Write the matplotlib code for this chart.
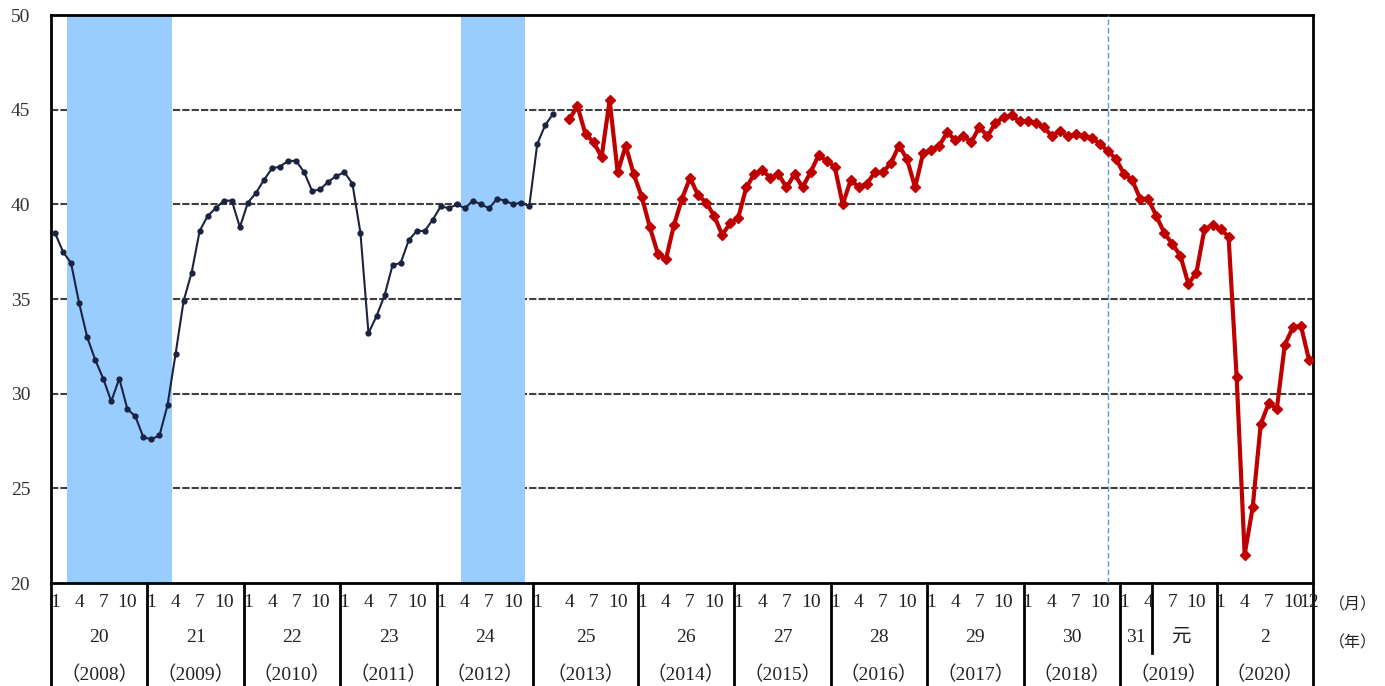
import matplotlib.pyplot as plt

plt.rcParams['font.family'] = ['Liberation Serif', 'Noto Sans CJK JP']

# old basis, Jan 2008 - Mar 2013
old_values = [
    38.5, 37.5, 36.9, 34.8, 33.0, 31.8, 30.8, 29.6, 30.8, 29.2, 28.8, 27.7,
    27.6, 27.8, 29.4, 32.1, 34.9, 36.4, 38.6, 39.4, 39.8, 40.2, 40.2, 38.8,
    40.1, 40.6, 41.3, 41.9, 42.0, 42.3, 42.3, 41.7, 40.7, 40.8, 41.2, 41.5,
    41.7, 41.1, 38.5, 33.2, 34.1, 35.2, 36.8, 36.9, 38.1, 38.6, 38.6, 39.2,
    39.9, 39.8, 40.0, 39.8, 40.2, 40.0, 39.8, 40.3, 40.2, 40.0, 40.1, 39.9,
    43.2, 44.2, 44.8,
]
# new basis, Apr 2013 - Dec 2020
new_values = [
    44.5, 45.2, 43.7, 43.3, 42.5, 45.5, 41.7, 43.1, 41.6,
    40.4, 38.8, 37.4, 37.1, 38.9, 40.3, 41.4, 40.5, 40.1, 39.4, 38.4, 39.0,
    39.3, 40.9, 41.6, 41.8, 41.4, 41.6, 40.9, 41.6, 40.9, 41.7, 42.6, 42.3,
    42.0, 40.0, 41.3, 40.9, 41.1, 41.7, 41.7, 42.2, 43.1, 42.4, 40.9, 42.7,
    42.9, 43.1, 43.8, 43.4, 43.6, 43.3, 44.1, 43.6, 44.3, 44.6, 44.7, 44.4,
    44.4, 44.3, 44.1, 43.6, 43.9, 43.6, 43.7, 43.6, 43.5, 43.2, 42.8, 42.4,
    41.6, 41.3, 40.3, 40.3, 39.4, 38.5, 37.9, 37.3, 35.8, 36.4, 38.7, 38.9,
    38.7, 38.3, 30.9, 21.5, 24.0, 28.4, 29.5, 29.2, 32.6, 33.5, 33.6, 31.8,
]

years = list(range(2008, 2021))
era_labels = ["20", "21", "22", "23", "24", "25", "26", "27", "28", "29", "30", None, "2"]
recessions = [((2008, 3), (2009, 3)), ((2012, 4), (2012, 11))]
peak_month = (2018, 11)
month_ticks = [1, 4, 7, 10]


def slot(year, month):
    # 2013 takes one extra slot where the basis changes (between Mar and Apr)
    s = 12 * (year - 2008) + month - 1
    if year > 2013 or (year == 2013 and month >= 4):
        s += 1
    return s


def year_start(year):
    return slot(year, 1)


def year_end(year):
    return slot(year, 12) + 1


old_x = [slot(y, m) + 0.5 for y in range(2008, 2014) for m in range(1, 13)
         if (y, m) <= (2013, 3)]
new_x = [slot(y, m) + 0.5 for y in range(2013, 2021) for m in range(1, 13)
         if (y, m) >= (2013, 4)]

fig = plt.figure(figsize=(13.85, 6.86), dpi=100)
ax = fig.add_axes([0.0368, 0.150, 0.9112, 0.828])

x_max = year_end(2020)
ax.set_xlim(0, x_max)
ax.set_ylim(20, 50)
ax.set_yticks(range(20, 51, 5))
ax.tick_params(axis='y', length=0, pad=15, labelsize=14, labelcolor='#333333')
ax.set_xticks([])

for v in range(25, 50, 5):
    ax.axhline(v, color='#404040', lw=1.5, ls=(0, (3.5, 1)), zorder=1)

for (y0, m0), (y1, m1) in recessions:
    ax.axvspan(slot(y0, m0), slot(y1, m1) + 1, color='#99ccff', lw=0, zorder=2)

ax.axvline(slot(*peak_month) + 0.5, color='#5b9bd5', lw=1, ls=(0, (4, 2)), zorder=3)

ax.plot(old_x, old_values, color='#1c2340', lw=1.5, marker='o', ms=3.5, zorder=4)
ax.plot(new_x, new_values, color='#c00000', lw=3, marker='D', ms=5.5, zorder=4)

for side in ['top', 'right', 'left', 'bottom']:
    ax.spines[side].set_linewidth(2)
    ax.spines[side].set_color('black')

# table under the axis
tr = ax.get_xaxis_transform()
y_month, y_era, y_year, y_bottom = -0.034, -0.095, -0.162, -0.182
txt = dict(transform=tr, ha='center', va='center', fontsize=14, color='#222222')
for yr in years + [2021]:
    xb = year_start(yr) if yr <= 2020 else x_max
    ax.plot([xb, xb], [0, y_bottom], transform=tr, color='black', lw=2, clip_on=False)
xs = slot(2019, 5)
ax.plot([xs, xs], [0, -0.123], transform=tr, color='black', lw=2, clip_on=False)

for yr, era in zip(years, era_labels):
    ticks = month_ticks + ([12] if yr == 2020 else [])
    for m in ticks:
        ax.text(slot(yr, m) + 0.5, y_month, str(m), **txt)
    mid = (year_start(yr) + year_end(yr)) / 2
    if era is not None:
        ax.text(mid, y_era, era, **txt)
    ax.text(mid, y_year, f"（{yr}）", **txt)

ax.text((slot(2019, 1) + slot(2019, 5)) / 2, y_era, "31", **txt)
ax.text((slot(2019, 5) + year_end(2019)) / 2 - 0.5, y_era, "元", **txt)

ax.text(1.032, -0.040, "（月）", transform=ax.transAxes, ha='center', va='center',
        fontsize=11.5, color='#222222')
ax.text(1.032, -0.106, "（年）", transform=ax.transAxes, ha='center', va='center',
        fontsize=11.5, color='#222222')

fig.savefig("out.png", dpi=100)
